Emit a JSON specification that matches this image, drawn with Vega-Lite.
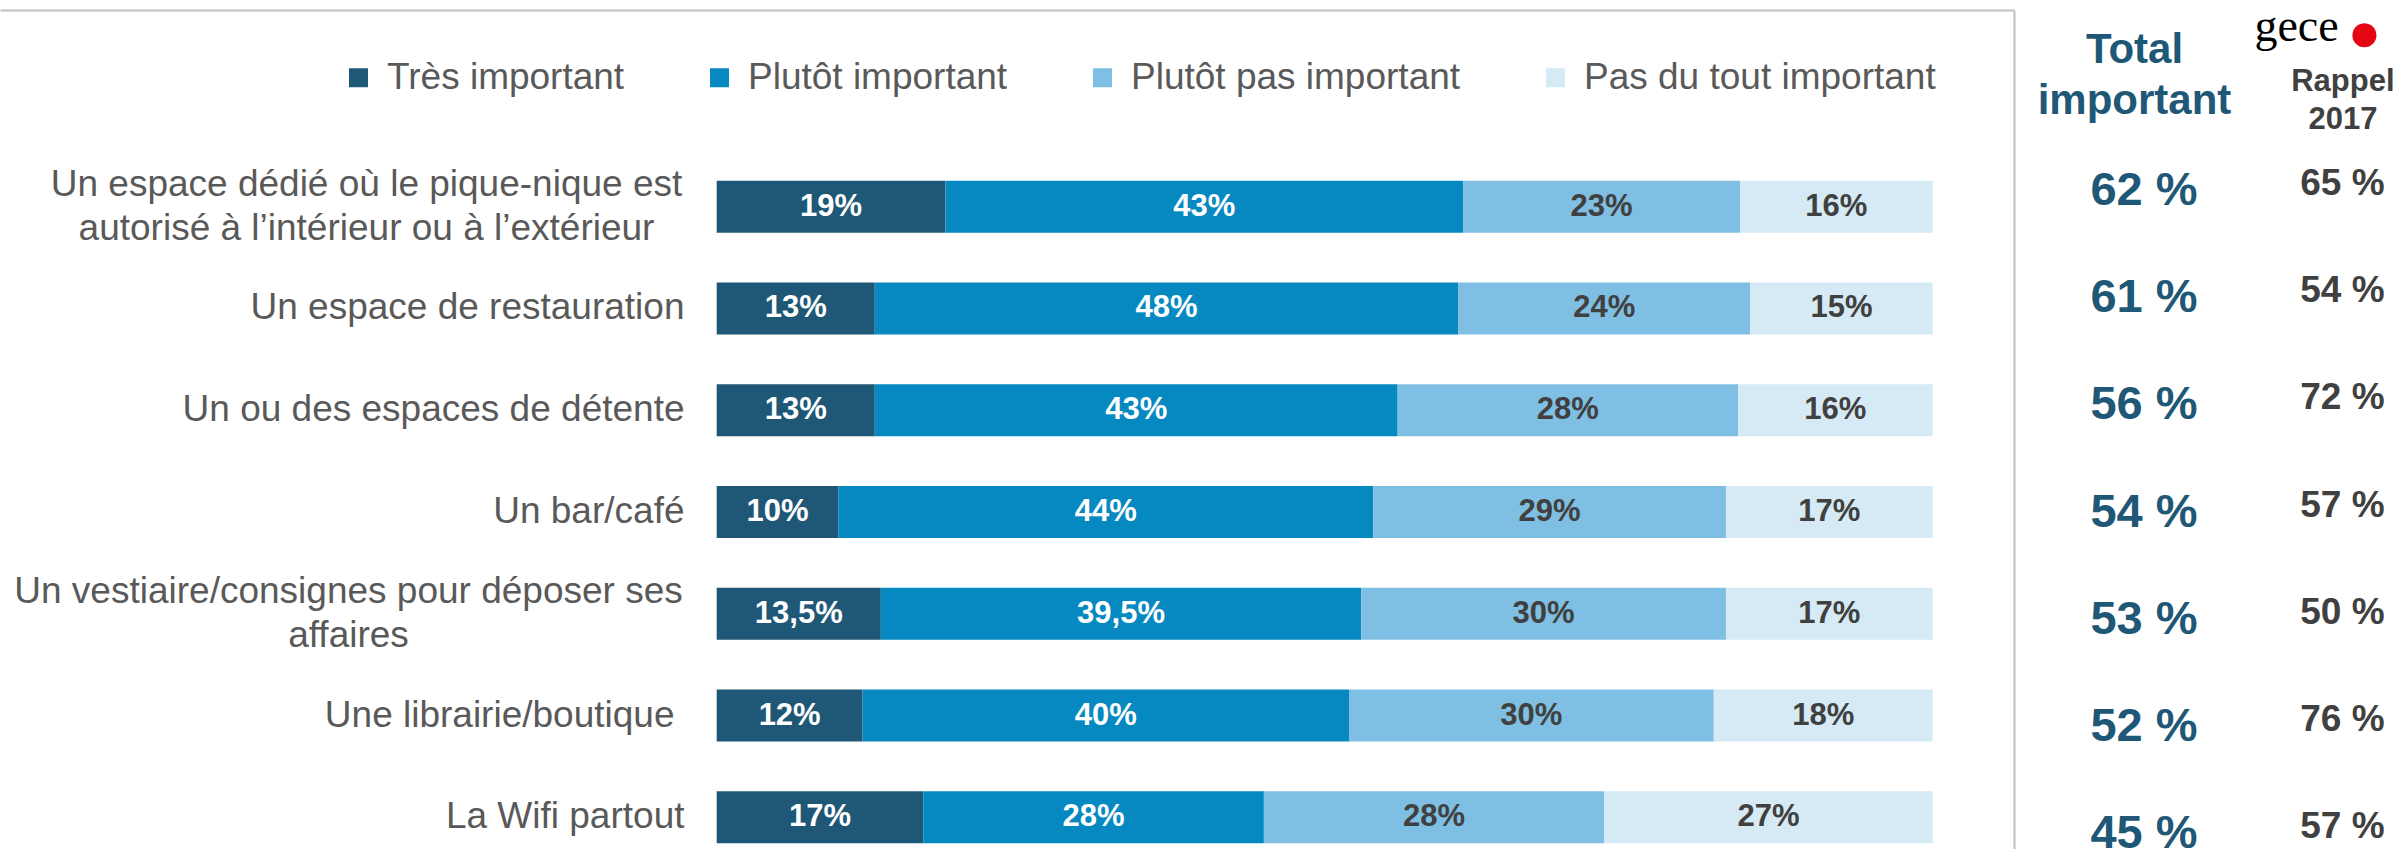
{
  "$schema": "https://vega.github.io/schema/vega-lite/v6.json",
  "padding": 0,
  "spacing": 0,
  "bounds": "flush",
  "background": "white",
  "config": {"view": {"stroke": null}, "font": "Liberation Sans", "axis": {"grid": false}},
  "datasets": {
    "bars": [
      {"item": "Un espace dédié où le pique-nique est autorisé à l’intérieur ou à l’extérieur", "level": "Très important", "n": 1, "pct": 19},
      {"item": "Un espace dédié où le pique-nique est autorisé à l’intérieur ou à l’extérieur", "level": "Plutôt important", "n": 2, "pct": 43},
      {"item": "Un espace dédié où le pique-nique est autorisé à l’intérieur ou à l’extérieur", "level": "Plutôt pas important", "n": 3, "pct": 23},
      {"item": "Un espace dédié où le pique-nique est autorisé à l’intérieur ou à l’extérieur", "level": "Pas du tout important", "n": 4, "pct": 16},
      {"item": "Un espace de restauration", "level": "Très important", "n": 1, "pct": 13},
      {"item": "Un espace de restauration", "level": "Plutôt important", "n": 2, "pct": 48},
      {"item": "Un espace de restauration", "level": "Plutôt pas important", "n": 3, "pct": 24},
      {"item": "Un espace de restauration", "level": "Pas du tout important", "n": 4, "pct": 15},
      {"item": "Un ou des espaces de détente", "level": "Très important", "n": 1, "pct": 13},
      {"item": "Un ou des espaces de détente", "level": "Plutôt important", "n": 2, "pct": 43},
      {"item": "Un ou des espaces de détente", "level": "Plutôt pas important", "n": 3, "pct": 28},
      {"item": "Un ou des espaces de détente", "level": "Pas du tout important", "n": 4, "pct": 16},
      {"item": "Un bar/café", "level": "Très important", "n": 1, "pct": 10},
      {"item": "Un bar/café", "level": "Plutôt important", "n": 2, "pct": 44},
      {"item": "Un bar/café", "level": "Plutôt pas important", "n": 3, "pct": 29},
      {"item": "Un bar/café", "level": "Pas du tout important", "n": 4, "pct": 17},
      {"item": "Un vestiaire/consignes pour déposer ses affaires", "level": "Très important", "n": 1, "pct": 13.5},
      {"item": "Un vestiaire/consignes pour déposer ses affaires", "level": "Plutôt important", "n": 2, "pct": 39.5},
      {"item": "Un vestiaire/consignes pour déposer ses affaires", "level": "Plutôt pas important", "n": 3, "pct": 30},
      {"item": "Un vestiaire/consignes pour déposer ses affaires", "level": "Pas du tout important", "n": 4, "pct": 17},
      {"item": "Une librairie/boutique", "level": "Très important", "n": 1, "pct": 12},
      {"item": "Une librairie/boutique", "level": "Plutôt important", "n": 2, "pct": 40},
      {"item": "Une librairie/boutique", "level": "Plutôt pas important", "n": 3, "pct": 30},
      {"item": "Une librairie/boutique", "level": "Pas du tout important", "n": 4, "pct": 18},
      {"item": "La Wifi partout", "level": "Très important", "n": 1, "pct": 17},
      {"item": "La Wifi partout", "level": "Plutôt important", "n": 2, "pct": 28},
      {"item": "La Wifi partout", "level": "Plutôt pas important", "n": 3, "pct": 28},
      {"item": "La Wifi partout", "level": "Pas du tout important", "n": 4, "pct": 27}
    ],
    "totals": [
      {"item": "Un espace dédié où le pique-nique est autorisé à l’intérieur ou à l’extérieur", "total": 62, "rappel": 65},
      {"item": "Un espace de restauration", "total": 61, "rappel": 54},
      {"item": "Un ou des espaces de détente", "total": 56, "rappel": 72},
      {"item": "Un bar/café", "total": 54, "rappel": 57},
      {"item": "Un vestiaire/consignes pour déposer ses affaires", "total": 53, "rappel": 50},
      {"item": "Une librairie/boutique", "total": 52, "rappel": 76},
      {"item": "La Wifi partout", "total": 45, "rappel": 57}
    ]
  },
  "hconcat": [
    {
      "width": 2014,
      "height": 849,
      "data": {"name": "bars"},
      "encoding": {
        "y": {
          "field": "item", "type": "nominal", "sort": null,
          "scale": {
            "domain": [
              "Un espace dédié où le pique-nique est autorisé à l’intérieur ou à l’extérieur",
              "Un espace de restauration",
              "Un ou des espaces de détente",
              "Un bar/café",
              "Un vestiaire/consignes pour déposer ses affaires",
              "Une librairie/boutique",
              "La Wifi partout"
            ],
            "paddingInner": 0.489, "paddingOuter": 0.9158, "align": 0.9694
          },
          "axis": {
            "orient": "left", "offset": -700, "domain": false, "ticks": false, "title": null,
            "labelFont": "Liberation Sans", "labelFontSize": 37, "labelColor": "#595959",
            "labelLimit": 900, "labelOverlap": false, "labelBaseline": "middle", "labelLineHeight": 44,
            "labelPadding": {"condition": [{"test": "indexof(datum.value, 'pique-nique') >= 0", "value": 334}, {"test": "indexof(datum.value, 'vestiaire') >= 0", "value": 352}, {"test": "indexof(datum.value, 'librairie') >= 0", "value": 26}], "value": 16},
            "labelOffset": {"condition": {"test": "indexof(datum.value, 'pique-nique') >= 0 || indexof(datum.value, 'vestiaire') >= 0", "value": -22}, "value": 0},
            "labelAlign": {"condition": {"test": "indexof(datum.value, 'pique-nique') >= 0 || indexof(datum.value, 'vestiaire') >= 0", "value": "center"}, "value": "right"},
            "labelExpr": "indexof(datum.value, 'pique-nique') >= 0 ? ['Un espace dédié où le pique-nique est', 'autorisé à l’intérieur ou à l’extérieur'] : indexof(datum.value, 'vestiaire') >= 0 ? ['Un vestiaire/consignes pour déposer ses', 'affaires'] : datum.label"
          }
        }
      },
      "layer": [
        {
          "mark": {"type": "bar"},
          "encoding": {
            "x": {
              "field": "pct", "type": "quantitative", "stack": "normalize",
              "scale": {"domain": [-0.5894, 1.0669], "nice": false, "zero": false},
              "axis": {"orient": "top", "offset": -10, "labels": false, "ticks": false, "grid": false, "title": null, "domainColor": "#BFBFBF", "domainWidth": 2}
            },
            "color": {
              "field": "level", "type": "nominal",
              "scale": {
                "domain": ["Très important", "Plutôt important", "Plutôt pas important", "Pas du tout important"],
                "range": ["#1F5876", "#0689C0", "#7FBFE3", "#D6EAF5"]
              },
              "legend": {
                "title": null, "orient": "none", "legendX": 340, "legendY": 59, "direction": "horizontal",
                "symbolType": "square", "symbolSize": 361, "symbolStrokeWidth": 0,
                "labelFont": "Liberation Sans", "labelFontSize": 37, "labelColor": "#595959",
                "labelOffset": 10, "columnPadding": 76, "padding": 0, "labelLimit": 600
              }
            },
            "order": {"field": "n", "type": "quantitative"}
          }
        },
        {
          "mark": {"type": "text", "font": "Liberation Sans", "fontWeight": "bold", "fontSize": 31, "baseline": "middle", "align": "center", "text": {"expr": "replace(datum.pct + '', '.', ',') + '%'"}},
          "encoding": {
            "x": {
              "field": "pct", "type": "quantitative", "stack": "normalize", "bandPosition": 0.5,
              "axis": {"orient": "top", "offset": -10, "labels": false, "ticks": false, "grid": false, "title": null, "domainColor": "#BFBFBF", "domainWidth": 2}
            },
            "detail": {"field": "level"},
            "order": {"field": "n", "type": "quantitative"},
            "color": {"condition": {"test": "datum.n <= 2", "value": "white"}, "value": "#404040"}
          }
        }
      ]
    },
    {
      "width": 385,
      "height": 849,
      "data": {"name": "totals"},
      "encoding": {
        "y": {
          "field": "item", "type": "nominal", "sort": null,
          "scale": {
            "type": "point",
            "domain": [
              "Un espace dédié où le pique-nique est autorisé à l’intérieur ou à l’extérieur",
              "Un espace de restauration",
              "Un ou des espaces de détente",
              "Un bar/café",
              "Un vestiaire/consignes pour déposer ses affaires",
              "Une librairie/boutique",
              "La Wifi partout"
            ],
            "rangeMin": 10, "padding": 0.9114, "align": 0.895
          },
          "axis": {"orient": "left", "domain": true, "domainColor": "#BFBFBF", "domainWidth": 2, "labels": false, "ticks": false, "title": null, "grid": false}
        }
      },
      "layer": [
        {
          "mark": {"type": "text", "font": "Liberation Sans", "fontWeight": "bold", "fontSize": 47, "color": "#1F5876", "baseline": "middle", "align": "center", "dy": 6, "dx": 10, "text": {"expr": "datum.total + ' %'"}},
          "encoding": {
            "x": {
              "datum": "Total important", "type": "nominal",
              "scale": {"type": "point", "domain": ["Total important"], "align": 0.3117, "padding": 0},
              "axis": {"orient": "top", "offset": -62, "labelPadding": 0, "domain": false, "ticks": false, "labelAngle": 0,
                       "labelExpr": "['Total', 'important']", "labelFont": "Liberation Sans", "labelFontSize": 42, "labelFontWeight": "bold",
                       "labelColor": "#1F5876", "labelBaseline": "alphabetic", "labelLineHeight": 51, "labelLimit": 400,
                       "title": "●", "titleX": 350, "titleY": -12, "titleAlign": "center", "titleBaseline": "alphabetic", "titleAngle": 0,
                       "titleFont": "Liberation Sans", "titleFontSize": 56, "titleFontWeight": "normal", "titleColor": "#E30613"}
            }
          }
        },
        {
          "mark": {"type": "text", "font": "Liberation Sans", "fontWeight": "bold", "fontSize": 37, "color": "#404040", "baseline": "middle", "align": "center", "dy": -1, "text": {"expr": "datum.rappel + ' %'"}},
          "encoding": {
            "x": {
              "datum": "Rappel 2017", "type": "nominal",
              "scale": {"type": "point", "domain": ["Rappel 2017"], "align": 0.853, "padding": 0},
              "axis": {"orient": "top", "offset": -90, "labelPadding": 0, "domain": false, "ticks": false, "labelAngle": 0,
                       "labelExpr": "['Rappel', '2017']", "labelFont": "Liberation Sans", "labelFontSize": 31, "labelFontWeight": "bold",
                       "labelColor": "#404040", "labelBaseline": "alphabetic", "labelLineHeight": 38, "labelLimit": 400,
                       "title": "gece", "titleX": 282, "titleY": -50, "titleAlign": "center", "titleBaseline": "alphabetic", "titleAngle": 0,
                       "titleFont": "Liberation Serif", "titleFontSize": 46, "titleFontWeight": "normal", "titleColor": "black"}
            }
          }
        }
      ],
      "resolve": {"scale": {"x": "independent"}}
    }
  ]
}
